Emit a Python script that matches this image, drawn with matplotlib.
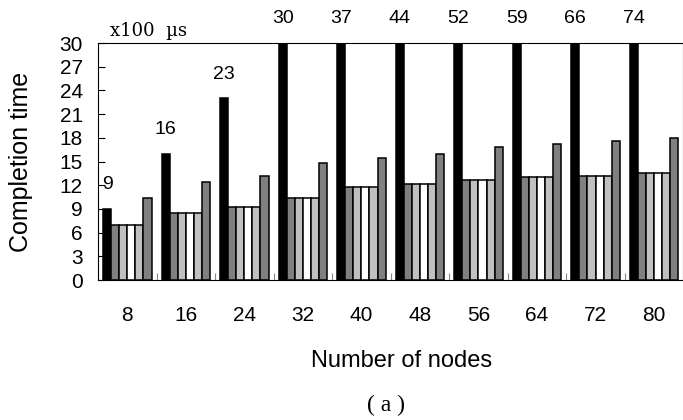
import numpy as np
import matplotlib
matplotlib.use("Agg")
import matplotlib.pyplot as plt
from matplotlib.ticker import FixedLocator, NullFormatter

plt.rcParams['font.family'] = ['Liberation Sans', 'DejaVu Sans']

# data
nodes = ['8', '16', '24', '32', '40', '48', '56', '64', '72', '80']
black_vals = [9, 16, 23, 30, 37, 44, 52, 59, 66, 74]
mid_vals = [7.0, 8.5, 9.3, 10.4, 11.8, 12.2, 12.6, 13.0, 13.2, 13.6]
last_vals = [10.4, 12.4, 13.2, 14.8, 15.4, 16.0, 16.8, 17.2, 17.6, 18.0]

series = [black_vals, mid_vals, mid_vals, mid_vals, mid_vals, last_vals]
colors = ['black', '#808080', '#c0c0c0', 'white', '#c0c0c0', '#808080']

fig = plt.figure(figsize=(6.83, 4.2), dpi=100)
ax = fig.add_axes([0.1435, 0.3333, 0.857, 0.5643])

x = np.arange(len(nodes))
w = 0.138
for i, (vals, c) in enumerate(zip(series, colors)):
    ax.bar(x + (i - 2.5) * w, vals, width=w, color=c, edgecolor='black',
           linewidth=1.1, zorder=2)

# value labels over the black bars
for xi, v in zip(x, black_vals):
    ax.annotate(str(v), (xi - 2.5 * w, min(v, 30)), xytext=(0, 17.5),
                textcoords='offset points', ha='center', va='center',
                fontsize=14, annotation_clip=False)

ax.set_xlim(-0.5, len(nodes) - 0.5)
ax.set_ylim(0, 30)
ax.set_yticks(range(0, 31, 3))
ax.tick_params(axis='y', direction='in', length=5, pad=11, labelsize=15)

# separators between groups as major ticks, labels on minor ticks
ax.xaxis.set_major_locator(FixedLocator(np.arange(0.5, len(nodes) - 0.5, 1)))
ax.xaxis.set_major_formatter(NullFormatter())
ax.xaxis.set_minor_locator(FixedLocator(x))
ax.set_xticklabels(nodes, minor=True)
ax.tick_params(axis='x', which='major', direction='in', length=5, color='#888888')
ax.tick_params(axis='x', which='minor', length=0, pad=19, labelsize=15)

fig.text(21 / 683, 0.615, 'Completion time', rotation=90, ha='center',
         va='center', fontsize=18)
fig.text(402 / 683, 1 - 361 / 420, 'Number of nodes', ha='center',
         va='center', fontsize=17)
fig.text(386 / 683, 1 - 405 / 420, '( a )', ha='center', va='center',
         fontsize=17, family=['Liberation Serif', 'DejaVu Serif'])
fig.text(110 / 683, 1 - 31 / 420, 'x100  \u00b5s', ha='left', va='center',
         fontsize=13, family=['DejaVu Serif'])

fig.savefig('out.png', dpi=100)
